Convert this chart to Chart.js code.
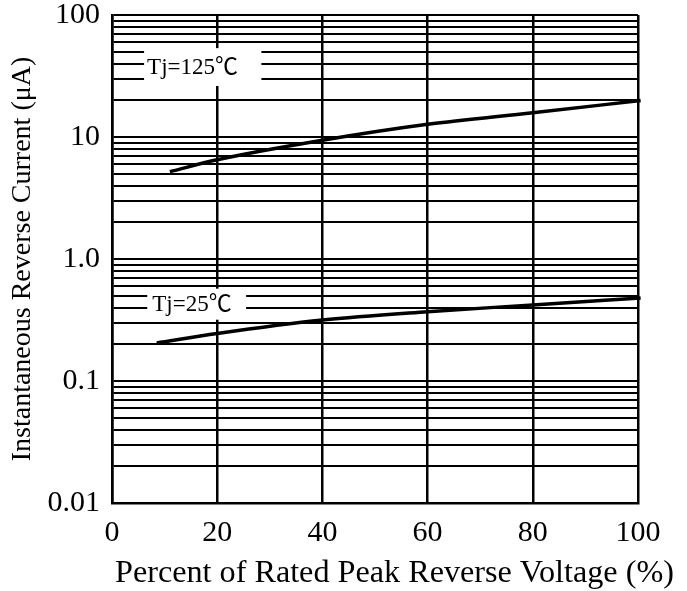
<!DOCTYPE html>
<html>
<head>
<meta charset="utf-8">
<script src="https://cdn.jsdelivr.net/npm/chart.js@4.4.1/dist/chart.umd.min.js"></script>
<style>
  html, body { margin: 0; padding: 0; background: #fff; }
  #wrap { width: 687px; height: 591px; position: relative; }
</style>
</head>
<body>
<div id="wrap"><canvas id="chart"></canvas></div>
<script>
// curve readings (percent of rated voltage -> reverse current in uA)
const pct125 = [11, 20, 40, 60, 80, 100.5];
const amps125 = [5.2, 6.5, 9.4, 12.7, 15.8, 19.9];
const pct25 = [8.5, 20, 40, 60, 80, 100.5];
const amps25 = [0.205, 0.245, 0.316, 0.37, 0.42, 0.48];

// axis ticks
const xTicks = [0, 20, 40, 60, 80, 100];
const yDecades = [0.01, 0.1, 1, 10, 100];
const yDecadeLabels = ["0.01", "0.1", "1.0", "10", "100"];
const yMultipliers = [1, 2, 3, 4, 5, 6, 7, 8, 9];

const X_TITLE = "Percent of Rated Peak Reverse Voltage (%)";
const Y_TITLE = "Instantaneous Reverse Current (\u03bcA)";

const FONT = '"Liberation Serif", "Times New Roman", "Noto Sans CJK JP", serif';

// log paper: every 1..9 step inside each decade gets a grid line
const yGrid = [];
yDecades.slice(0, -1).forEach(d => yMultipliers.forEach(m => yGrid.push(d * m)));
yGrid.push(yDecades[yDecades.length - 1]);

function labelFor(v) {
  const i = yDecades.findIndex(d => Math.abs(v - d) / d < 1e-6);
  return i >= 0 ? yDecadeLabels[i] : "";
}

// curve name boxes, placed in data units
const tags = [
  { text: "Tj=125\u2103", x0: 6.1, x1: 28.4, yLo: 26.2, yHi: 53.5, pad: 3 },
  { text: "Tj=25\u2103", x0: 6.7, x1: 25.5, yLo: 0.318, yHi: 0.571, pad: 5 }
];

const tagPlugin = {
  id: "tags",
  beforeDatasetsDraw(chart) {
    const { ctx, scales: { x, y } } = chart;
    ctx.save();
    tags.forEach(t => {
      const l = x.getPixelForValue(t.x0), r = x.getPixelForValue(t.x1);
      const top = y.getPixelForValue(t.yHi), bot = y.getPixelForValue(t.yLo);
      ctx.fillStyle = "#fff";
      ctx.fillRect(l, top, r - l, bot - top);
      ctx.fillStyle = "#000";
      ctx.font = "23px " + FONT;
      ctx.textBaseline = "middle";
      ctx.fillText(t.text, l + t.pad, (top + bot) / 2 + 1);
    });
    ctx.restore();
  },
  // the built-in x title gets squeezed to the axis width, the original runs past it
  afterDraw(chart) {
    const { ctx, chartArea } = chart;
    ctx.save();
    ctx.fillStyle = "#000";
    ctx.font = "32.2px " + FONT;
    ctx.textAlign = "left";
    ctx.textBaseline = "alphabetic";
    ctx.fillText(X_TITLE, chartArea.left + 3, chart.height - 9);
    ctx.restore();
  }
};

const toPoints = (xs, ys) => xs.map((v, i) => ({ x: v, y: ys[i] }));

new Chart(document.getElementById("chart"), {
  type: "scatter",
  data: {
    datasets: [
      {
        label: "Tj=125\u2103",
        data: toPoints(pct125, amps125),
        showLine: true,
        borderColor: "#000",
        borderWidth: 3.5,
        pointRadius: 0,
        cubicInterpolationMode: "monotone",
        clip: false
      },
      {
        label: "Tj=25\u2103",
        data: toPoints(pct25, amps25),
        showLine: true,
        borderColor: "#000",
        borderWidth: 3.5,
        pointRadius: 0,
        cubicInterpolationMode: "monotone",
        clip: false
      }
    ]
  },
  options: {
    responsive: true,
    maintainAspectRatio: false,
    animation: false,
    layout: { padding: { top: 15, right: 49, left: 0, bottom: 0 } },
    plugins: {
      legend: { display: false },
      tooltip: { enabled: false }
    },
    scales: {
      x: {
        type: "linear",
        min: 0,
        max: 100,
        afterBuildTicks: s => { s.ticks = xTicks.map(v => ({ value: v })); },
        afterFit: s => { s.height = 88; },
        ticks: {
          color: "#000",
          padding: 15,
          font: { family: FONT, size: 30, lineHeight: 1 },
          maxRotation: 0
        },
        grid: { color: "#000", lineWidth: 2.5, drawTicks: false },
        border: { color: "#000", width: 2.5 },
        title: { display: false, text: X_TITLE }
      },
      y: {
        type: "logarithmic",
        min: 0.01,
        max: 100,
        afterBuildTicks: s => { s.ticks = yGrid.map(v => ({ value: v })); },
        afterFit: s => { s.width = 112; s.paddingTop = 0; s.paddingBottom = 0; },
        ticks: {
          color: "#000",
          padding: 12,
          autoSkip: false,
          font: { family: FONT, size: 30, lineHeight: 1 },
          callback: v => labelFor(v)
        },
        grid: { color: "#000", lineWidth: 2, drawTicks: false },
        border: { color: "#000", width: 2.5 },
        title: {
          display: true,
          text: Y_TITLE,
          color: "#000",
          font: { family: FONT, size: 28 },
          padding: { top: 6, bottom: 0 }
        }
      }
    }
  },
  plugins: [tagPlugin]
});
</script>
</body>
</html>
